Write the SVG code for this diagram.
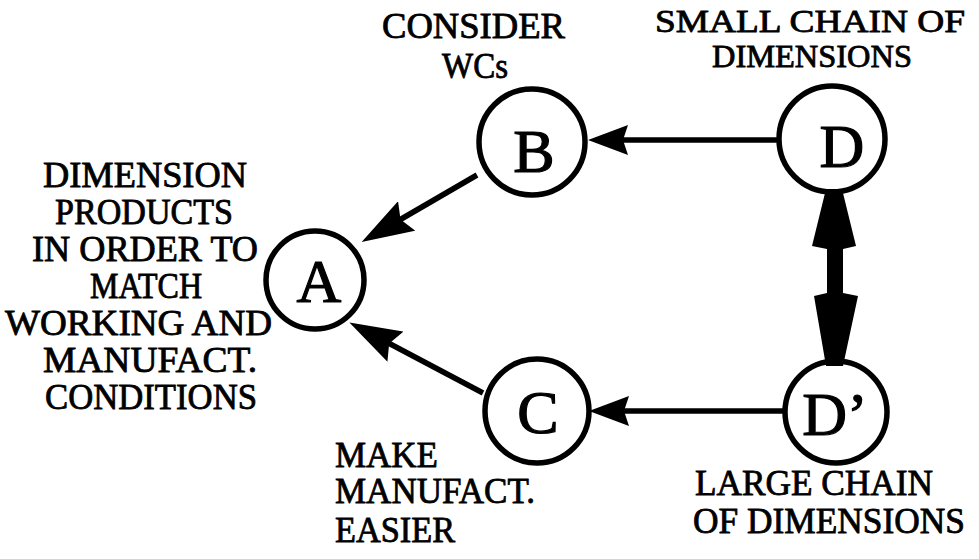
<svg xmlns="http://www.w3.org/2000/svg" width="979" height="559" viewBox="0 0 979 559">
  <style>
    .node { fill: none; stroke: #000; stroke-width: 5.5; }
    .big { font-family: "Liberation Serif", "Times New Roman", serif; font-size: 62px; fill: #000; stroke: #000; stroke-width: 1.2; text-anchor: middle; }
    .lbl { font-family: "Liberation Serif", "Times New Roman", serif; font-size: 35px; fill: #000; stroke: #000; stroke-width: 0.8; }
    .sm { font-size: 32px; }
    .edge { fill: none; stroke: #000; stroke-width: 5.5; }
  </style>
  <defs>
    <!-- arrowhead for the horizontal links -->
    <marker id="head" viewBox="0 0 40 30" refX="30" refY="15" markerWidth="40" markerHeight="30" markerUnits="userSpaceOnUse" orient="auto">
      <path d="M0,0 L40,15 L0,30 L5,15 Z" fill="#000"/>
    </marker>
    <!-- larger arrowhead for the links into A -->
    <marker id="head-lg" viewBox="0 0 52 34" refX="40" refY="17" markerWidth="52" markerHeight="34" markerUnits="userSpaceOnUse" orient="auto">
      <path d="M0,0 L52,17 L0,34 L7,17 Z" fill="#000"/>
    </marker>
  </defs>
  <rect width="979" height="559" fill="#fff"/>

  <!-- connectors -->
  <g id="connectors">
    <line class="edge" x1="779" y1="140" x2="598" y2="140" marker-end="url(#head)"/>
    <line class="edge" x1="783" y1="411" x2="599" y2="411" marker-end="url(#head)"/>
    <line class="edge" x1="477" y1="175" x2="372" y2="236" marker-end="url(#head-lg)"/>
    <line class="edge" x1="483" y1="393" x2="360" y2="328" marker-end="url(#head-lg)"/>
    <!-- thick double-headed link between D and D' -->
    <path d="M826,189 L842,189 L856,246 L843,249 L843,293 L858,296 L843,366 L826,366 L814,296 L827,293 L827,249 L812,246 Z" fill="#000"/>
  </g>

  <g id="node-A">
    <circle class="node" cx="315" cy="280" r="49"/>
    <text class="big" x="319" y="302">A</text>
    <text class="lbl" x="43" y="187" textLength="204" lengthAdjust="spacingAndGlyphs">DIMENSION</text>
    <text class="lbl" x="55" y="224" textLength="178" lengthAdjust="spacingAndGlyphs">PRODUCTS</text>
    <text class="lbl" x="32" y="261" textLength="226" lengthAdjust="spacingAndGlyphs">IN ORDER TO</text>
    <text class="lbl" x="90" y="298" textLength="112" lengthAdjust="spacingAndGlyphs">MATCH</text>
    <text class="lbl" x="5" y="335" textLength="267" lengthAdjust="spacingAndGlyphs">WORKING AND</text>
    <text class="lbl" x="43" y="372" textLength="214" lengthAdjust="spacingAndGlyphs">MANUFACT.</text>
    <text class="lbl" x="45" y="409" textLength="212" lengthAdjust="spacingAndGlyphs">CONDITIONS</text>
  </g>

  <g id="node-B">
    <circle class="node" cx="532" cy="142" r="53"/>
    <text class="big" x="534" y="172">B</text>
    <text class="lbl" x="382" y="38" textLength="183" lengthAdjust="spacingAndGlyphs">CONSIDER</text>
    <text class="lbl" x="442" y="78" textLength="66" lengthAdjust="spacingAndGlyphs">WCs</text>
  </g>

  <g id="node-C">
    <circle class="node" cx="537" cy="411" r="52"/>
    <text class="big" x="538" y="433">C</text>
    <text class="lbl" x="335" y="467" textLength="103" lengthAdjust="spacingAndGlyphs">MAKE</text>
    <text class="lbl" x="335" y="503">MANUFACT.</text>
    <text class="lbl" x="335" y="542" textLength="120" lengthAdjust="spacingAndGlyphs">EASIER</text>
  </g>

  <g id="node-D">
    <circle class="node" cx="832" cy="139" r="53"/>
    <text class="big" x="842" y="167">D</text>
    <text class="lbl sm" x="655" y="32" textLength="310" lengthAdjust="spacingAndGlyphs">SMALL CHAIN OF</text>
    <text class="lbl sm" x="712" y="67" textLength="200" lengthAdjust="spacingAndGlyphs">DIMENSIONS</text>
  </g>

  <g id="node-D-prime">
    <circle class="node" cx="836" cy="412" r="51"/>
    <text class="big" x="835" y="435">D’</text>
    <text class="lbl" x="695" y="495" textLength="238" lengthAdjust="spacingAndGlyphs">LARGE CHAIN</text>
    <text class="lbl" x="693" y="533" textLength="272" lengthAdjust="spacingAndGlyphs">OF DIMENSIONS</text>
  </g>
</svg>
